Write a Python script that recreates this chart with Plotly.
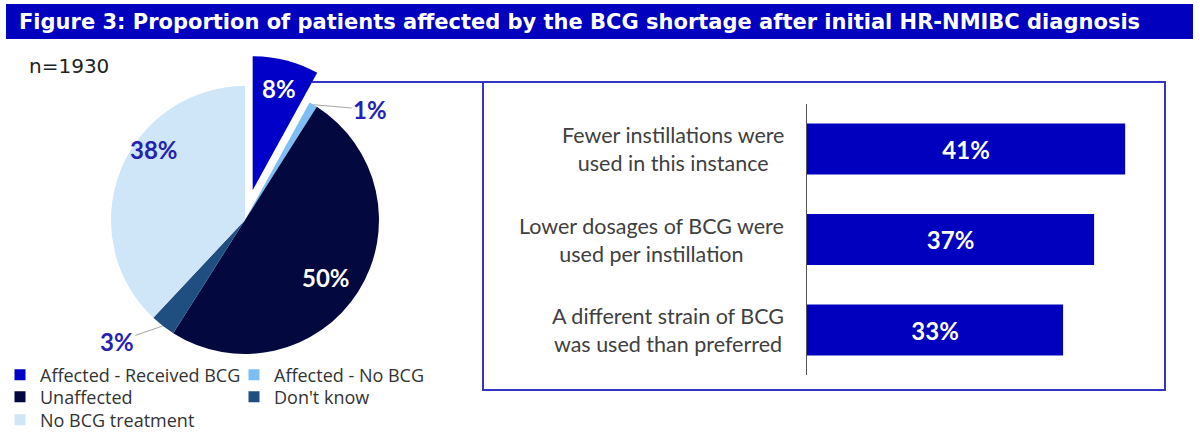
import math
import plotly.graph_objects as go

W, H = 1200, 434

# ---------------- data ----------------
pie_labels = ["Affected - Received BCG", "Affected - No BCG", "Unaffected", "Don't know", "No BCG treatment"]
pie_values = [8, 1, 50, 3, 38]
pie_colors = ["#0000C8", "#7DBEF5", "#03083F", "#1F4E80", "#CFE5F8"]
pie_pull = [0.23, 0, 0, 0, 0]
sample_n = "n=1930"

bar_categories = ["Fewer instillations were<br>used in this instance",
                  "Lower dosages of BCG were<br>used per instillation",
                  "A different strain of BCG<br>was used than preferred"]
bar_values = [41, 37, 33]

title_text = "Figure 3: Proportion of patients affected by the BCG shortage after initial HR-NMIBC diagnosis"

# ---------------- styling / layout ----------------
def px_x(p):
    return p / W

def px_y(p):
    return 1 - p / H

BLUE = "#0000BE"
LABEL_BLUE = "#2323B0"

pie_dom_x = [px_x(80.2), px_x(409.8)]
pie_dom_y = [px_y(384.8), px_y(55.2)]
pie_cx, pie_cy, pie_r = 245, 220, 134

# slice label placement: inside -> (radius fraction, angle shift deg, colour);
# outside -> leader-line offset (ax, ay)
label_style = {
    0: dict(kind="in", rf=0.78, da=0, color="#FFFFFF"),
    1: dict(kind="out", ax=57, ay=5),
    2: dict(kind="in", rf=0.74, da=3, color="#FFFFFF"),
    3: dict(kind="out", ax=-46, ay=16),
    4: dict(kind="in", rf=0.86, da=16, color=LABEL_BLUE),
}

# legend placement: (legend id, text-left px, row-centre px)
legend_pos = [("legend", 0, 375), ("legend2", 234, 375), ("legend3", 0, 397),
              ("legend4", 234, 397), ("legend5", 0, 420)]

fig = go.Figure()

fig.add_trace(go.Pie(
    labels=pie_labels,
    values=pie_values,
    sort=False,
    direction="clockwise",
    rotation=0,
    pull=pie_pull,
    marker=dict(colors=pie_colors, line=dict(width=0)),
    textinfo="none",
    domain=dict(x=pie_dom_x, y=pie_dom_y),
    showlegend=False,
    hoverinfo="label+percent",
))

fig.add_trace(go.Bar(
    x=bar_values,
    y=bar_categories,
    orientation="h",
    marker=dict(color=BLUE, line=dict(width=0)),
    texttemplate="<b>%{x}%</b>",
    textposition="inside",
    insidetextanchor="middle",
    textfont=dict(family="Lato", size=24, color="white"),
    showlegend=False,
    xaxis="x", yaxis="y",
))

# legend entries, one legend per entry to reproduce the two-column layout
legend_layout = {}
for i, (lid, lx, ly) in enumerate(legend_pos):
    fig.add_trace(go.Scatter(x=[None], y=[None], mode="markers", name=pie_labels[i],
                             marker=dict(symbol="square", size=11, color=pie_colors[i]),
                             legend=lid, showlegend=True))
    legend_layout[lid] = dict(x=px_x(lx), y=px_y(ly), xanchor="left", yanchor="middle",
                              font=dict(family="Open Sans", size=18, color="#333333"),
                              bgcolor="rgba(0,0,0,0)", borderwidth=0)

annotations = []
annotations.append(dict(text="<b>" + title_text + "</b>", xref="paper", yref="paper",
                        x=px_x(17), y=px_y(21.5), xanchor="left", yanchor="middle",
                        showarrow=False, font=dict(family="DejaVu Sans", size=21, color="white")))
annotations.append(dict(text=sample_n, xref="paper", yref="paper", x=px_x(27), y=px_y(66),
                        xanchor="left", yanchor="middle", showarrow=False,
                        font=dict(family="DejaVu Sans", size=20, color="#222222")))

total = sum(pie_values)
cum = 0
for i, v in enumerate(pie_values):
    mid_deg = (cum + v / 2) / total * 360
    cum += v
    st = label_style[i]
    # centre of this slice (pulled slices are shifted outward)
    sx = pie_cx + pie_pull[i] * pie_r * math.sin(math.radians(mid_deg))
    sy = pie_cy - pie_pull[i] * pie_r * math.cos(math.radians(mid_deg))
    if st["kind"] == "in":
        a = math.radians(mid_deg + st["da"])
        tx = sx + st["rf"] * pie_r * math.sin(a)
        ty = sy - st["rf"] * pie_r * math.cos(a)
        annotations.append(dict(text="<b>%d%%</b>" % v, xref="paper", yref="paper",
                                x=px_x(tx), y=px_y(ty), xanchor="center", yanchor="middle",
                                showarrow=False,
                                font=dict(family="Lato", size=24, color=st["color"])))
    else:
        a = math.radians(mid_deg)
        ex = sx + pie_r * math.sin(a)
        ey = sy - pie_r * math.cos(a)
        annotations.append(dict(text="<b>%d%%</b>" % v, xref="paper", yref="paper",
                                x=px_x(ex), y=px_y(ey), ax=st["ax"], ay=st["ay"], showarrow=True,
                                arrowhead=0, arrowwidth=1, arrowcolor="#A6A6A6",
                                font=dict(family="Lato", size=24, color=LABEL_BLUE)))

for c in bar_categories:
    annotations.append(dict(text=c, xref="paper", yref="y", x=px_x(786), y=c,
                            xanchor="right", yanchor="middle", align="center", showarrow=False,
                            font=dict(family="Lato", size=21.5, color="#404040")))

shapes = [
    dict(type="rect", xref="paper", yref="paper", x0=px_x(6), x1=px_x(1193), y0=px_y(39), y1=px_y(4),
         fillcolor=BLUE, line=dict(width=0), layer="below"),
    dict(type="rect", xref="paper", yref="paper", x0=px_x(483), x1=px_x(1165), y0=px_y(390), y1=px_y(82),
         line=dict(color="#3333C4", width=2), fillcolor="rgba(0,0,0,0)"),
    dict(type="line", xref="paper", yref="paper", x0=px_x(312), x1=px_x(483), y0=px_y(82), y1=px_y(82),
         line=dict(color="#3333C4", width=2)),
]

fig.update_layout(
    width=W, height=H,
    margin=dict(l=0, r=0, t=0, b=0, autoexpand=False),
    paper_bgcolor="white", plot_bgcolor="white",
    xaxis=dict(domain=[px_x(807), px_x(807 + 44 * 7.76)], range=[0, 44], visible=False, fixedrange=True),
    yaxis=dict(domain=[px_y(375.25), px_y(103.75)], autorange="reversed", showticklabels=False,
               showline=True, linecolor="#555555", linewidth=1, showgrid=False, zeroline=False,
               ticks="", fixedrange=True),
    bargap=0.436,
    annotations=annotations,
    shapes=shapes,
    uniformtext=dict(minsize=24, mode="show"),
    **legend_layout,
)

fig.write_html("out.html")
